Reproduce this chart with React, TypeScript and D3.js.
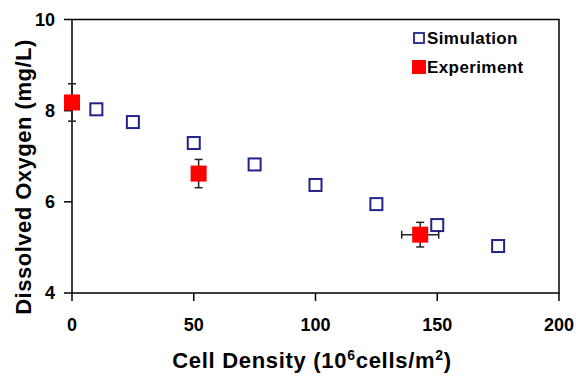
import React from "react";
import * as d3 from "d3";

const simX = [10, 25, 50, 75, 100, 125, 150, 175];
const simY = [8.03, 7.75, 7.29, 6.82, 6.37, 5.95, 5.49, 5.03];

const expX = [0, 52, 143];
const expY = [8.18, 6.62, 5.28];
const expYErr = [0.41, 0.31, 0.27];
const expXErr = [0, 0, 7.6];

const xTicks = [0, 50, 100, 150, 200];
const yTicks = [4, 6, 8, 10];

const W = 576;
const H = 383;
const L = 72, R = 559, T = 19.5, B = 293;

export default function App() {
  const x = d3.scaleLinear().domain([0, 200]).range([L, R]);
  const y = d3.scaleLinear().domain([4, 10]).range([B, T]);
  const font = "Arial, 'Liberation Sans', Helvetica, sans-serif";
  const navy = "#22228a";
  const red = "#ff0000";
  return (
    <svg width={W} height={H} style={{ position: "absolute", left: 0, top: 0, background: "#fff" }} fontFamily={font}>
      <rect x={0} y={0} width={W} height={H} fill="#fff" />
      {/* frame */}
      <rect x={L} y={T} width={R - L} height={B - T} fill="none" stroke="#000" strokeWidth={1.5} />
      {/* x ticks */}
      {xTicks.map((t) => (
        <g key={"xt" + t}>
          <line x1={x(t)} x2={x(t)} y1={B} y2={B + 8} stroke="#000" strokeWidth={1.5} />
          <text x={x(t)} y={331} textAnchor="middle" fontSize={18} fontWeight="bold">{t}</text>
        </g>
      ))}
      {yTicks.map((t) => (
        <g key={"yt" + t}>
          <line x1={L - 8} x2={L} y1={y(t)} y2={y(t)} stroke="#000" strokeWidth={1.5} />
          <text x={55} y={y(t)} dy="0.36em" textAnchor="end" fontSize={18} fontWeight="bold">{t}</text>
        </g>
      ))}
      {/* axis labels */}
      <text x={312} y={368} textAnchor="middle" fontSize={22} fontWeight="bold" letterSpacing={0.7}>
        Cell Density (10<tspan dy={-8} fontSize={14}>6</tspan><tspan dy={8}>cells/m</tspan><tspan dy={-8} fontSize={14}>2</tspan><tspan dy={8}>)</tspan>
      </text>
      <text transform={`translate(31,177) rotate(-90)`} textAnchor="middle" fontSize={22} fontWeight="bold" letterSpacing={0.5}>
        Dissolved Oxygen (mg/L)
      </text>
      {/* simulation */}
      {simX.map((v, i) => (
        <rect key={"s" + i} x={x(v) - 6} y={y(simY[i]) - 6} width={12} height={12} fill="#fff" stroke={navy} strokeWidth={2} />
      ))}
      {/* experiment error bars */}
      {expX.map((v, i) => (
        <g key={"e" + i} stroke="#222" strokeWidth={1.5}>
          <line x1={x(v)} x2={x(v)} y1={y(expY[i] - expYErr[i])} y2={y(expY[i] + expYErr[i])} />
          <line x1={x(v) - 4} x2={x(v) + 4} y1={y(expY[i] + expYErr[i])} y2={y(expY[i] + expYErr[i])} />
          <line x1={x(v) - 4} x2={x(v) + 4} y1={y(expY[i] - expYErr[i])} y2={y(expY[i] - expYErr[i])} />
          {expXErr[i] > 0 && (
            <>
              <line x1={x(v - expXErr[i])} x2={x(v + expXErr[i])} y1={y(expY[i])} y2={y(expY[i])} />
              <line x1={x(v - expXErr[i])} x2={x(v - expXErr[i])} y1={y(expY[i]) - 4} y2={y(expY[i]) + 4} />
              <line x1={x(v + expXErr[i])} x2={x(v + expXErr[i])} y1={y(expY[i]) - 4} y2={y(expY[i]) + 4} />
            </>
          )}
        </g>
      ))}
      {expX.map((v, i) => (
        <rect key={"r" + i} x={x(v) - 8} y={y(expY[i]) - 8} width={16} height={16} fill={red} />
      ))}
      {/* legend */}
      <rect x={414} y={33} width={10} height={10} fill="#fff" stroke={navy} strokeWidth={1.8} />
      <text x={427} y={38} dy="0.36em" fontSize={17} fontWeight="bold" letterSpacing={0.4}>Simulation</text>
      <rect x={412} y={60} width={14} height={14} fill={red} />
      <text x={427} y={67} dy="0.36em" fontSize={17} fontWeight="bold" letterSpacing={0.4}>Experiment</text>
    </svg>
  );
}
